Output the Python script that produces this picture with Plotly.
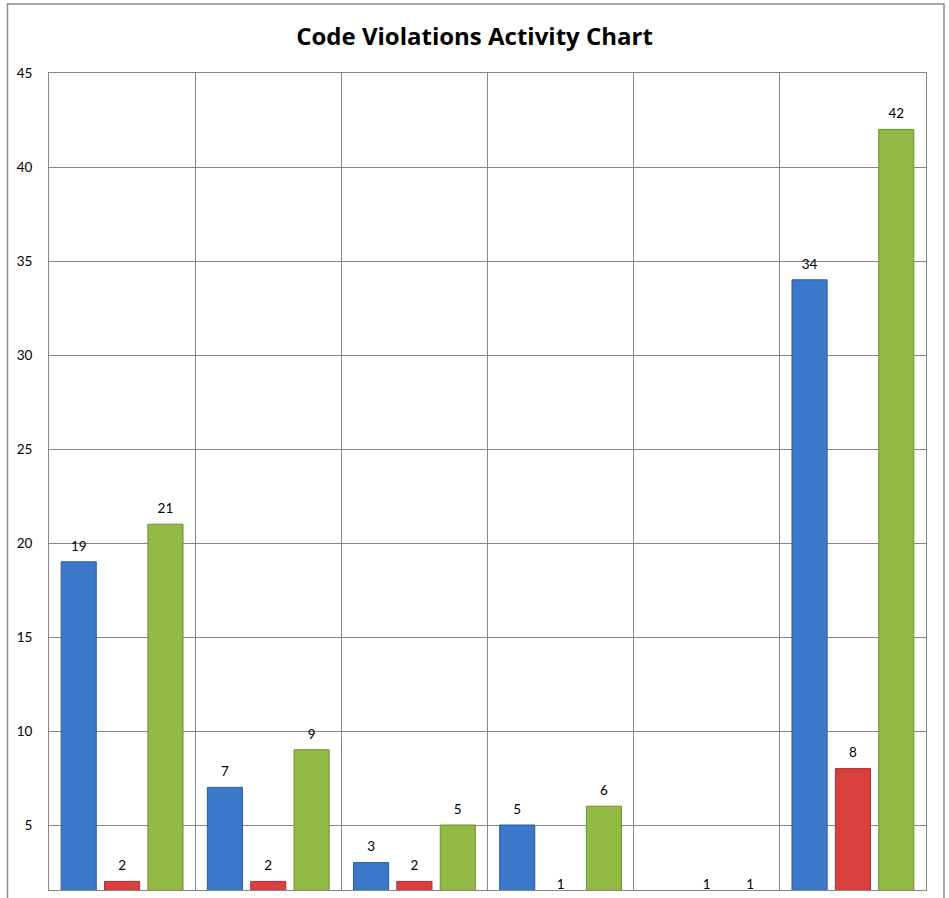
import plotly.graph_objects as go

categories = ["Category 1", "Category 2", "Category 3", "Category 4", "Category 5", "Category 6"]
series_names = ["Opened", "Closed", "Total"]
opened = [19, 7, 3, 5, None, 34]
closed = [2, 2, 2, 1, 1, 8]
total = [21, 9, 5, 6, 1, 42]
y_ticks = [5, 10, 15, 20, 25, 30, 35, 40, 45]

series_values = [opened, closed, total]
colors = ["#3B78CA", "#D84040", "#93BA45"]
line_colors = ["#2B5C9E", "#A83030", "#6F8F32"]

FONT = "Lato, 'Open Sans', sans-serif"
LABEL_GAP = 0.78  # label sits this many value units above the bar top

fig = go.Figure()
for i, (name, vals) in enumerate(zip(series_names, series_values)):
    fig.add_trace(go.Bar(
        x=categories, y=vals, name=name, offsetgroup=str(i),
        marker=dict(color=colors[i], line=dict(color=line_colors[i], width=1)),
        hoverinfo="x+y+name",
    ))
for i, (name, vals) in enumerate(zip(series_names, series_values)):
    fig.add_trace(go.Scatter(
        x=categories,
        y=[(v + LABEL_GAP) if v is not None else None for v in vals],
        name=name + " labels", offsetgroup=str(i),
        mode="text", text=[str(v) if v is not None else "" for v in vals],
        textposition="middle center",
        textfont=dict(family=FONT, size=13.5, color="#000000"),
        cliponaxis=False, hoverinfo="skip", showlegend=False,
    ))

W, H = 949, 898
L, R, T, B = 49, 23, 73, 8
plot_h = H - T - B
px_per_unit = (825 - 73) / 40.0
y_min = 45 - plot_h / px_per_unit

fig.update_layout(
    width=W, height=H,
    margin=dict(l=L, r=R, t=T, b=B, pad=0),
    paper_bgcolor="white", plot_bgcolor="white",
    barmode="group", bargap=0.11, bargroupgap=0.19,
    scattermode="group", scattergap=0.11,
    showlegend=False,
    title=dict(text="<b>Code Violations Activity Chart</b>", x=0.5, xanchor="center",
               y=1 - 37 / H, yanchor="middle",
               font=dict(family="'Open Sans', Lato, sans-serif", size=24, color="#000000")),
    font=dict(family=FONT, size=13.5, color="#000000"),
    xaxis=dict(type="category", tickson="boundaries", showgrid=True, gridcolor="#868686",
               gridwidth=1, showticklabels=False, ticks="", showline=True,
               linecolor="#868686", mirror=True, zeroline=False, fixedrange=True),
    yaxis=dict(range=[y_min, 45], tickvals=y_ticks, ticktext=[str(v) for v in y_ticks],
               showgrid=True, gridcolor="#868686", gridwidth=1, ticks="",
               ticklabelstandoff=13, showline=True, linecolor="#868686", mirror=True,
               zeroline=False, fixedrange=True,
               tickfont=dict(family=FONT, size=13.5, color="#000000")),
    shapes=[dict(type="rect", xref="paper", yref="paper",
                 x0=(7.5 - L) / (W - L - R), x1=(944 - L) / (W - L - R),
                 y0=-0.2, y1=(H - B - 4) / plot_h,
                 line=dict(color="#8C8C8C", width=1.5), fillcolor="rgba(0,0,0,0)",
                 layer="below")],
)

fig.write_html(
    "out.html",
    config={"displayModeBar": False},
    post_script="document.body.style.margin='0px';document.body.style.overflow='hidden';",
)
